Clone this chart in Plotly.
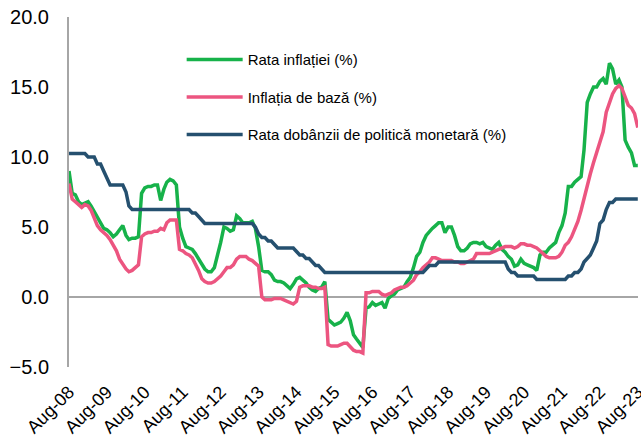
import pandas as pd
import plotly.graph_objects as go

dates = pd.date_range("2008-08-01", periods=181, freq="MS")

tick_dates = pd.date_range("2008-08-01", "2023-08-01", freq="12MS")
tick_labels = ["Aug-08", "Aug-09", "Aug-10", "Aug-11", "Aug-12", "Aug-13", "Aug-14", "Aug-15",
               "Aug-16", "Aug-17", "Aug-18", "Aug-19", "Aug-20", "Aug-21", "Aug-22", "Aug-23"]

rata_inflatiei = [
    9.0, 7.4, 7.3, 6.8, 6.6, 6.7, 6.8, 6.5, 6.1, 5.7, 5.3, 4.9,
    4.8, 4.6, 4.3, 4.5, 4.8, 5.1, 4.4, 4.1, 4.2, 4.2, 4.3, 7.4,
    7.8, 7.9, 7.9, 8.0, 8.0, 6.9, 7.7, 8.2, 8.4, 8.3, 8.0, 5.0,
    4.2, 3.6, 3.5, 3.4, 3.1, 2.7, 2.3, 2.0, 1.8, 1.8, 2.1, 2.9,
    3.9, 5.0, 4.9, 4.7, 4.8, 5.8, 5.6, 5.3, 5.3, 5.3, 5.4, 4.9,
    3.6, 1.9, 1.8, 1.8, 1.6, 1.2, 1.1, 1.1, 1.0, 0.8, 0.6, 0.9,
    1.3, 1.4, 1.2, 1.0, 0.7, 0.5, 0.4, 0.6, 0.7, 1.1, -1.6, -1.8,
    -2.0, -1.9, -1.8, -1.5, -1.1, -1.7, -2.7, -3.0, -3.3, -3.6, -0.8, -0.7,
    -0.4, -0.6, -0.5, -0.4, -0.8, -0.1, 0.1, 0.2, 0.5, 0.6, 0.7, 1.1,
    1.4, 2.1, 2.9, 3.2, 3.9, 4.4, 4.7, 4.9, 5.1, 5.3, 5.3, 4.6,
    5.0, 5.0, 4.4, 3.6, 3.3, 3.3, 3.5, 3.8, 3.9, 3.9, 3.8, 3.9,
    3.6, 3.5, 3.4, 3.7, 3.9, 3.4, 3.2, 2.9, 2.7, 2.2, 2.3, 2.7,
    2.4, 2.3, 2.2, 2.1, 1.9, 3.0, 3.2, 3.2, 3.5, 3.7, 3.9, 4.6,
    5.1, 6.0, 7.9, 7.9, 8.2, 8.4, 8.6, 10.5, 13.9, 14.5, 15.0, 15.0,
    15.4, 15.6, 15.2, 16.7, 16.3, 15.2, 15.5, 15.0, 11.2, 10.7, 10.3, 9.4, 9.4,
]

inflatia_de_baza = [
    8.1, 7.0, 6.8, 6.6, 6.4, 6.6, 6.5, 6.2, 5.6, 5.1, 4.8, 4.6,
    4.4, 4.1, 3.7, 3.3, 2.7, 2.3, 2.0, 1.8, 1.9, 2.1, 2.3, 4.3,
    4.5, 4.6, 4.6, 4.7, 4.7, 4.9, 4.8, 5.3, 5.5, 5.5, 5.5, 3.4,
    3.3, 3.1, 3.0, 2.8, 2.4, 1.9, 1.3, 1.1, 1.0, 1.0, 1.1, 1.3,
    1.5, 1.8, 2.1, 2.1, 2.3, 2.7, 2.9, 2.9, 2.9, 2.7, 2.6, 2.4,
    2.2, 0.0, -0.2, -0.2, -0.2, -0.1, -0.1, -0.1, -0.2, -0.3, -0.4, -0.5,
    -0.3, 0.7, 0.8, 0.8, 0.8, 0.7, 0.7, 0.6, 0.6, 0.7, -3.4, -3.5,
    -3.5, -3.5, -3.4, -3.3, -3.3, -3.6, -3.8, -3.9, -3.9, -4.0, 0.3, 0.3,
    0.4, 0.4, 0.4, 0.2, 0.1, 0.2, 0.3, 0.5, 0.6, 0.7, 0.7, 0.8,
    1.0, 1.2, 1.6, 1.8, 2.1, 2.3, 2.5, 2.8, 2.8, 2.7, 2.6, 2.6,
    2.6, 2.6, 2.5, 2.5, 2.4, 2.4, 2.5, 2.6, 2.7, 3.1, 3.1, 3.1,
    3.1, 3.1, 3.2, 3.3, 3.4, 3.5, 3.6, 3.6, 3.6, 3.5, 3.6, 3.8,
    3.8, 3.7, 3.7, 3.6, 3.5, 3.3, 3.1, 2.9, 2.8, 2.8, 2.8, 2.9,
    3.2, 3.7, 3.9, 4.3, 4.8, 5.4, 6.2, 7.1, 8.1, 8.8, 9.6, 10.3,
    11.0, 11.8, 13.2, 13.8, 14.5, 14.9, 15.1, 14.9, 14.2, 13.7, 13.5, 13.1, 12.1,
]

rata_dobanzii = [
    10.25, 10.25, 10.25, 10.25, 10.25, 10.25, 10.0, 10.0, 10.0, 9.5, 9.5, 9.0,
    8.5, 8.0, 8.0, 8.0, 8.0, 8.0, 7.5, 6.5, 6.25, 6.25, 6.25, 6.25,
    6.25, 6.25, 6.25, 6.25, 6.25, 6.25, 6.25, 6.25, 6.25, 6.25, 6.25, 6.25,
    6.25, 6.25, 6.25, 6.0, 6.0, 5.75, 5.5, 5.25, 5.25, 5.25, 5.25, 5.25,
    5.25, 5.25, 5.25, 5.25, 5.25, 5.25, 5.25, 5.25, 5.25, 5.25, 5.25, 5.0,
    4.5, 4.25, 4.25, 4.0, 4.0, 3.75, 3.5, 3.5, 3.5, 3.5, 3.5, 3.5,
    3.25, 3.0, 3.0, 2.75, 2.75, 2.5, 2.25, 2.25, 2.0, 1.75, 1.75, 1.75,
    1.75, 1.75, 1.75, 1.75, 1.75, 1.75, 1.75, 1.75, 1.75, 1.75, 1.75, 1.75,
    1.75, 1.75, 1.75, 1.75, 1.75, 1.75, 1.75, 1.75, 1.75, 1.75, 1.75, 1.75,
    1.75, 1.75, 1.75, 1.75, 1.75, 2.0, 2.25, 2.25, 2.25, 2.5, 2.5, 2.5,
    2.5, 2.5, 2.5, 2.5, 2.5, 2.5, 2.5, 2.5, 2.5, 2.5, 2.5, 2.5,
    2.5, 2.5, 2.5, 2.5, 2.5, 2.5, 2.5, 2.0, 1.75, 1.75, 1.5, 1.5,
    1.5, 1.5, 1.5, 1.5, 1.25, 1.25, 1.25, 1.25, 1.25, 1.25, 1.25, 1.25,
    1.25, 1.25, 1.5, 1.5, 1.75, 1.75, 2.0, 2.5, 2.75, 3.0, 3.5, 4.0,
    5.25, 5.5, 6.25, 6.75, 6.75, 7.0, 7.0, 7.0, 7.0, 7.0, 7.0, 7.0, 7.0,
]

series = [
    ("Rata inflației (%)", rata_inflatiei, "#17B24A"),
    ("Inflația de bază (%)", inflatia_de_baza, "#EC5580"),
    ("Rata dobânzii de politică monetară (%)", rata_dobanzii, "#25506F"),
]

fig = go.Figure()
for i, (name, vals, col) in enumerate(series):
    fig.add_trace(go.Scatter(
        x=dates, y=vals, name=name, mode="lines",
        line=dict(color=col, width=3.5),
        legendgroup=f"g{i}",
    ))

fig.update_layout(
    width=641, height=443,
    margin=dict(l=69, r=3, t=17, b=76, autoexpand=False),
    paper_bgcolor="white", plot_bgcolor="white",
    font=dict(family="Liberation Sans, Arial, sans-serif", color="#000000"),
    showlegend=True,
    legend=dict(
        x=0.198, y=0.925, xanchor="left", yanchor="top",
        font=dict(size=15, color="#000000"),
        bgcolor="rgba(0,0,0,0)",
        tracegroupgap=15,
        itemwidth=56,
    ),
    xaxis=dict(
        type="date",
        range=[dates[0], pd.Timestamp("2023-08-03")],
        tickvals=list(tick_dates), ticktext=tick_labels,
        tickangle=-45,
        tickfont=dict(size=18, color="#000000"),
        showgrid=False, showline=False, zeroline=False,
        ticks="", ticklabelstandoff=10,
        ticklabeloverflow="allow",
        automargin=False,
    ),
    yaxis=dict(
        range=[-5, 20], dtick=5, tick0=-5, tickformat=".1f",
        tickfont=dict(size=20, color="#000000"),
        showgrid=False,
        showline=True, linecolor="#A6A6A6", linewidth=2,
        zeroline=True, zerolinecolor="#A6A6A6", zerolinewidth=2,
        ticks="", ticklabelstandoff=14,
        ticklabeloverflow="allow",
        automargin=False,
    ),
)

fig.write_html(
    "out.html",
    config={"displayModeBar": False},
    post_script="document.body.style.margin='0px';document.body.style.overflow='hidden';",
)
